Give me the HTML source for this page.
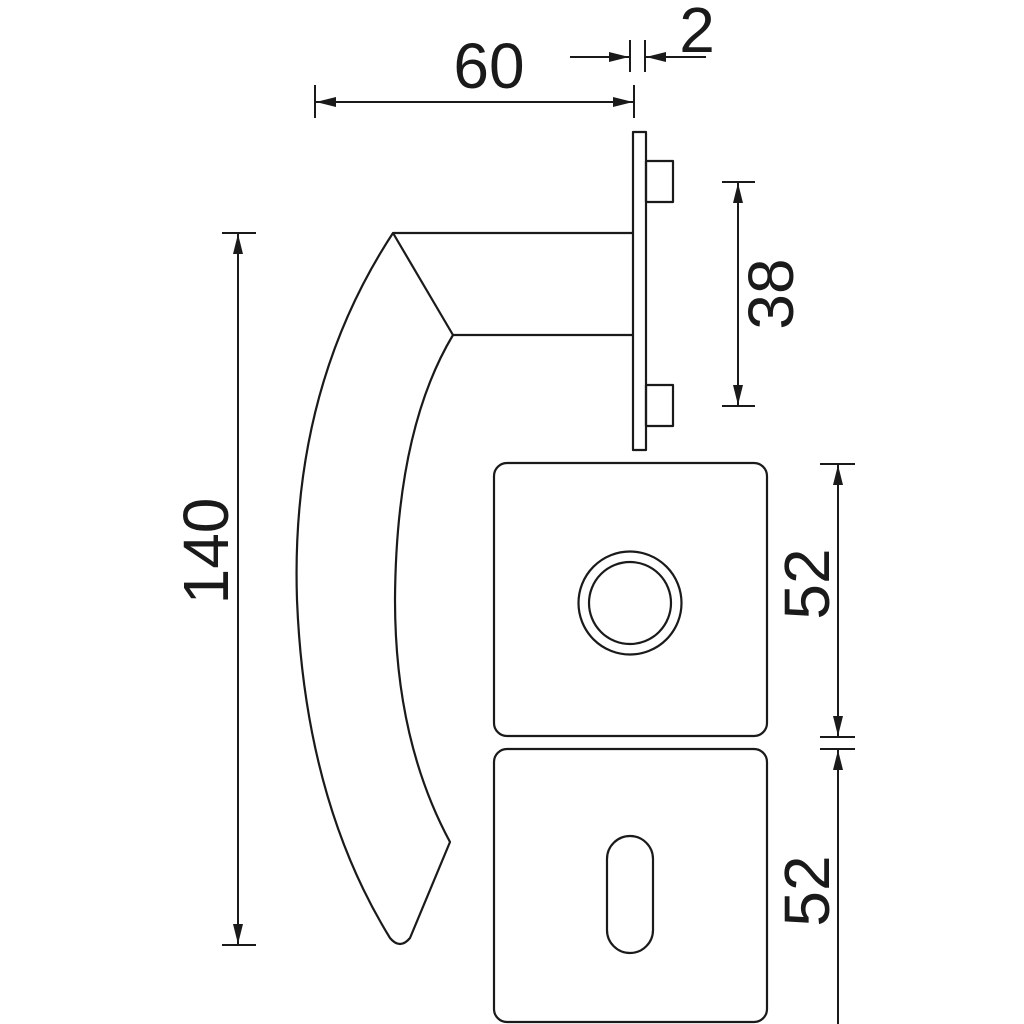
<!DOCTYPE html>
<html><head><style>html,body{margin:0;padding:0;background:#fff}svg{display:block}</style></head>
<body>
<svg width="1024" height="1024" viewBox="0 0 1024 1024" xmlns="http://www.w3.org/2000/svg">
<defs>
<marker id="a" viewBox="0 0 20 10" refX="20" refY="5" markerWidth="20" markerHeight="10" markerUnits="userSpaceOnUse" orient="auto"><path d="M0,0 L20,5 L0,10 Z" fill="#1a1a1a"/></marker>
</defs>
<g fill="none" stroke="#1a1a1a" stroke-width="2.2" stroke-linejoin="round">
<!-- lever -->
<path d="M632,233 L393,233 Q290,390 297,600 Q305,800 390,938 Q400,950 410,938 L450,842 Q395,740 395,600 Q396,430 453,335 L632,335"/>
<path d="M393,233 L453,335"/>
<!-- rose plate -->
<rect x="633" y="132" width="13" height="318"/>
<rect x="646" y="161" width="27" height="41"/>
<rect x="646" y="385" width="27" height="41"/>
<!-- rosettes -->
<rect x="494" y="463" width="273" height="273" rx="13"/>
<circle cx="630" cy="603" r="51.5"/>
<circle cx="630" cy="603" r="41"/>
<rect x="494" y="749" width="273" height="273" rx="13"/>
<rect x="607" y="836" width="46" height="117" rx="23"/>
</g>
<g stroke="#1a1a1a" stroke-width="2" fill="none">
<!-- 60 -->
<line x1="315" y1="85" x2="315" y2="118"/>
<line x1="634" y1="85" x2="634" y2="118"/>
<line x1="612" y1="102" x2="316" y2="102" marker-end="url(#a)"/>
<line x1="330" y1="102" x2="633" y2="102" marker-end="url(#a)"/>
<!-- 2 -->
<line x1="630" y1="40" x2="630" y2="72"/>
<line x1="645" y1="40" x2="645" y2="72"/>
<line x1="570" y1="57" x2="629" y2="57" marker-end="url(#a)"/>
<line x1="706" y1="57" x2="646" y2="57" marker-end="url(#a)"/>
<!-- 38 -->
<line x1="722" y1="182" x2="755" y2="182"/>
<line x1="722" y1="406" x2="755" y2="406"/>
<line x1="738" y1="390" x2="738" y2="183" marker-end="url(#a)"/>
<line x1="738" y1="200" x2="738" y2="405" marker-end="url(#a)"/>
<!-- 140 -->
<line x1="222" y1="233" x2="256" y2="233"/>
<line x1="222" y1="945" x2="256" y2="945"/>
<line x1="238" y1="930" x2="238" y2="234" marker-end="url(#a)"/>
<line x1="238" y1="250" x2="238" y2="944" marker-end="url(#a)"/>
<!-- 52 top -->
<line x1="820" y1="464" x2="855" y2="464"/>
<line x1="820" y1="737" x2="855" y2="737"/>
<line x1="838" y1="720" x2="838" y2="465" marker-end="url(#a)"/>
<line x1="838" y1="480" x2="838" y2="736" marker-end="url(#a)"/>
<!-- 52 bottom -->
<line x1="820" y1="749" x2="855" y2="749"/>
<line x1="838" y1="1024" x2="838" y2="750" marker-end="url(#a)"/>
</g>
<g font-family="Liberation Sans, sans-serif" font-size="64" fill="#1a1a1a">
<text x="489" y="88" text-anchor="middle">60</text>
<text x="697" y="52" text-anchor="middle">2</text>
<text transform="translate(793,294) rotate(-90)" text-anchor="middle">38</text>
<text transform="translate(228,551) rotate(-90)" text-anchor="middle">140</text>
<text transform="translate(829,584) rotate(-90)" text-anchor="middle">52</text>
<text transform="translate(829,891) rotate(-90)" text-anchor="middle">52</text>
</g>
</svg>
</body></html>
